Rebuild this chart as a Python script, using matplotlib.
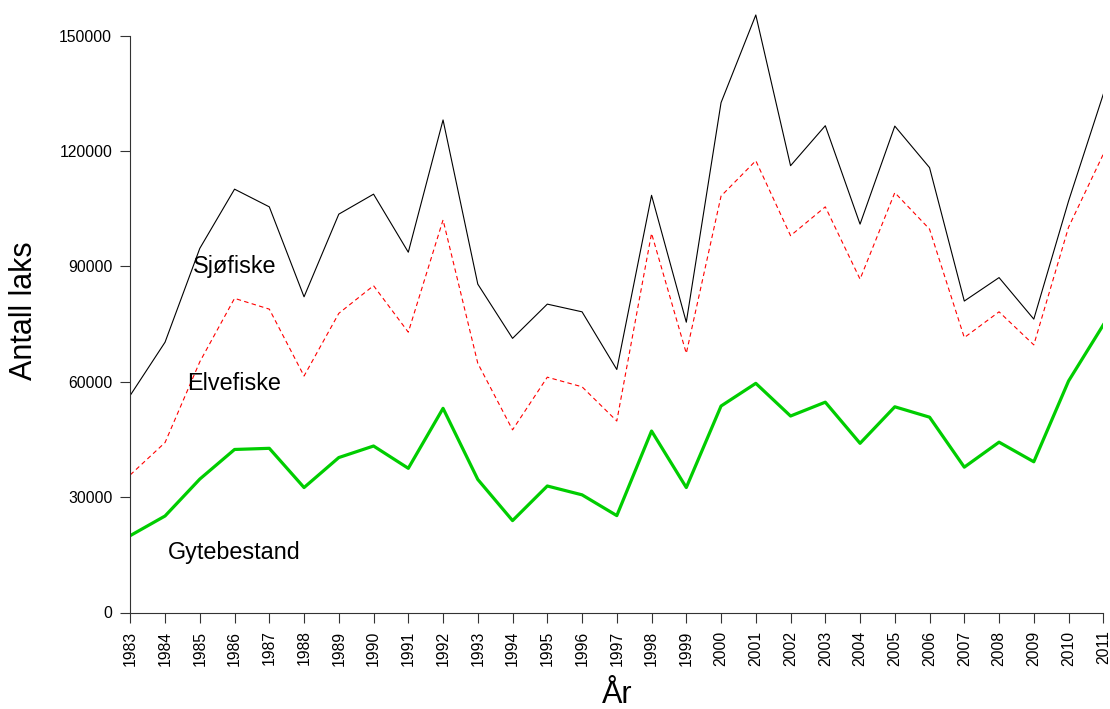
import matplotlib
matplotlib.use("Agg")
import matplotlib.pyplot as plt

plt.rcParams['font.family'] = ['Liberation Sans', 'DejaVu Sans']

years = list(range(1983, 2012))
sjofiske = [56500, 70300, 94700, 110100, 105500, 82100, 103600, 108800, 93700, 128100,
            85400, 71300, 80200, 78200, 63200, 108500, 75500, 132600, 155400, 116200,
            126600, 101000, 126500, 115700, 81000, 87100, 76300, 107000, 134800]
elvefiske = [35800, 44200, 65200, 81700, 78900, 61500, 77800, 85000, 72900, 102100,
             64800, 47500, 61200, 58700, 49800, 98600, 67400, 108300, 117500, 98000,
             105500, 86700, 109200, 99700, 71500, 78200, 69600, 100200, 119200]
gytebestand = [20000, 25100, 34700, 42400, 42700, 32500, 40300, 43300, 37500, 53100,
               34600, 23900, 32900, 30600, 25200, 47200, 32500, 53700, 59600, 51100,
               54700, 44000, 53500, 50800, 37800, 44300, 39200, 60200, 74800]
yticks = [0, 30000, 60000, 90000, 120000, 150000]
labels = [("Sjøfiske", 1986, 90000), ("Elvefiske", 1986, 59500), ("Gytebestand", 1986, 15500)]

W, H = 1110, 709
fig = plt.figure(figsize=(W / 100, H / 100), dpi=100)
left = 130.3 / W
right = 1103.3 / W
bottom = (H - 612.5) / H
top = 1 - 1.14 / H
ax = fig.add_axes([left, bottom, right - left, top - bottom])

ax.plot(years, sjofiske, color='black', lw=0.8)
ax.plot(years, elvefiske, color='#FF0000', lw=0.8, dashes=(4, 3))
ax.plot(years, gytebestand, color='#00CD00', lw=2.3)

for txt, x, y in labels:
    ax.text(x, y, txt, ha='center', va='center', fontsize=16.8)

ax.set_xlim(1983, 2011)
ax.set_ylim(0, 159000)
ax.set_xticks(years)
ax.set_xticklabels([str(y) for y in years], rotation=90, fontsize=11.3)
ax.set_yticks(yticks)
ax.set_yticklabels([str(v) for v in yticks], fontsize=11.3)
ax.tick_params(axis='both', direction='out', length=7, width=0.8, color='#333333', pad=6)

for s in ['top', 'right']:
    ax.spines[s].set_visible(False)
ax.spines['left'].set_bounds(0, 150000)
ax.spines['bottom'].set_bounds(1983, 2011)
for s in ['left', 'bottom']:
    ax.spines[s].set_linewidth(0.8)
    ax.spines[s].set_color('#333333')

fig.text(24 / W, 1 - 311 / H, "Antall laks", rotation=90, ha='center', va='center', fontsize=22)
fig.text(617 / W, 1 - 695 / H, "År", ha='center', va='center', fontsize=22)

fig.savefig("out.png", dpi=100)
